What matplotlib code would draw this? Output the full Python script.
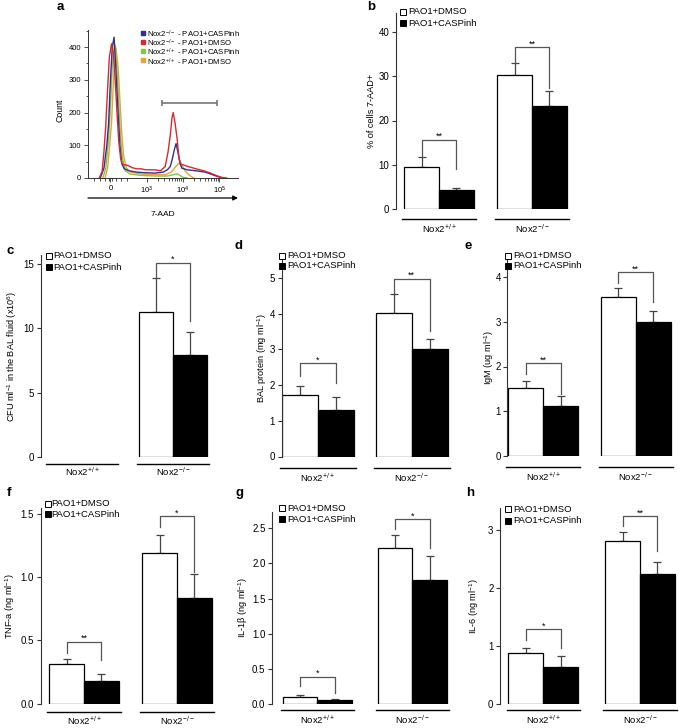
import numpy as np
import matplotlib
matplotlib.use('Agg')
import matplotlib.pyplot as plt
from matplotlib.transforms import blended_transform_factory
from matplotlib.ticker import MultipleLocator, FixedLocator, FormatStrFormatter

plt.rcParams['font.family'] = ['Liberation Sans', 'DejaVu Sans']
plt.rcParams['mathtext.fontset'] = 'custom'
plt.rcParams['mathtext.rm'] = 'Liberation Sans'
plt.rcParams['mathtext.it'] = 'Liberation Sans:italic'
plt.rcParams['mathtext.bf'] = 'Liberation Sans:bold'
plt.rcParams['mathtext.sf'] = 'Liberation Sans'

W, H = 685, 728

# ------------------------------------------------------------------ data
groups = ['Nox2$^{+/+}$', 'Nox2$^{-/-}$']
treatments = ['PAO1+DMSO', 'PAO1+CASPinh']

# panel a: flow cytometry histogram (x in display decades: 0, 10^3, 10^4, 10^5)
hist_ticks = [0, 1, 2, 3]
hist_ticklabels = ['0', '10$^{3}$', '10$^{4}$', '10$^{5}$']
hist_labels = ['Nox2$^{-/-}$ - PAO1+CASPinh', 'Nox2$^{-/-}$ - PAO1+DMSO',
               'Nox2$^{+/+}$ - PAO1+CASPinh', 'Nox2$^{+/+}$ - PAO1+DMSO']
hist_colors = ['#2e3192', '#d42a2f', '#86c447', '#e8a23a']

ko_casp_x = [-0.28, -0.18, -0.10, -0.05, 0.0, 0.05, 0.10, 0.15, 0.21, 0.26, 0.31, 0.38, 0.51, 0.72,
             0.97, 1.24, 1.46, 1.57, 1.65, 1.70, 1.76, 1.81, 1.86, 1.92, 1.97, 2.12, 2.36, 2.61,
             2.82, 2.97, 3.12]
ko_casp_count = [0, 30, 100, 170, 300, 400, 430, 330, 200, 100, 45, 28, 22, 18, 16, 15, 18, 25, 35,
                 55, 85, 105, 80, 45, 30, 25, 22, 18, 10, 4, 0]
ko_dmso_x = [-0.31, -0.23, -0.18, -0.13, -0.08, -0.03, 0.03, 0.08, 0.13, 0.18, 0.23, 0.28, 0.33,
             0.49, 0.59, 0.72, 0.85, 0.97, 1.24, 1.38, 1.51, 1.59, 1.65, 1.70, 1.73, 1.78, 1.84,
             1.89, 1.95, 2.06, 2.21, 2.36, 2.58, 2.76, 2.91, 3.06, 3.21]
ko_dmso_count = [0, 20, 80, 160, 270, 370, 410, 380, 300, 200, 110, 60, 42, 38, 32, 28, 28, 25, 25,
                 22, 35, 80, 130, 185, 200, 170, 120, 60, 42, 38, 33, 28, 22, 15, 8, 2, 0]
wt_casp_x = [-0.21, -0.13, -0.05, 0.0, 0.05, 0.10, 0.13, 0.18, 0.23, 0.28, 0.33, 0.41, 0.54, 0.85,
             1.24, 1.57, 1.73, 1.84, 1.92, 2.0, 2.12]
wt_casp_count = [0, 30, 120, 220, 340, 400, 405, 330, 220, 120, 60, 22, 12, 8, 6, 6, 10, 13, 8, 2, 0]
wt_dmso_x = [-0.15, -0.08, -0.03, 0.03, 0.08, 0.13, 0.15, 0.21, 0.26, 0.31, 0.36, 0.44, 0.56, 0.85,
             1.24, 1.51, 1.68, 1.78, 1.89, 1.97, 2.06, 2.18, 2.30]
wt_dmso_count = [0, 30, 90, 170, 290, 380, 398, 340, 240, 140, 70, 30, 18, 12, 10, 10, 18, 32, 45,
                 40, 22, 8, 0]
gate_x = [1.43, 2.94]
gate_count = 229

# panel b: % of cells 7-AAD+
b_dmso, b_dmso_sem = [9.6, 30.2], [2.1, 2.8]
b_casp, b_casp_sem = [4.2, 23.3], [0.5, 3.3]
b_br_top, b_br_left, b_br_right, b_stars = [15.6, 36.5], [11.7, 33.0], [9.0, 27.3], ['**', '**']
b_yticks = [0, 10, 20, 30, 40]

# panel c: CFU
c_dmso, c_dmso_sem = [0.0, 11.3], [0.0, 2.6]
c_casp, c_casp_sem = [0.0, 7.9], [0.0, 1.85]
c_br_top, c_br_left, c_br_right, c_stars = [None, 15.1], [None, 13.9], [None, 10.6], ['', '*']
c_yticks = [0, 5, 10, 15]

# panel d: BAL protein
d_dmso, d_dmso_sem = [1.72, 4.01], [0.25, 0.53]
d_casp, d_casp_sem = [1.29, 3.02], [0.37, 0.26]
d_br_top, d_br_left, d_br_right, d_stars = [2.61, 4.97], [2.26, 4.56], [2.05, 3.52], ['*', '**']
d_yticks = [0, 1, 2, 3, 4, 5]

# panel e: IgM
e_dmso, e_dmso_sem = [1.52, 3.54], [0.15, 0.20]
e_casp, e_casp_sem = [1.13, 3.00], [0.21, 0.24]
e_br_top, e_br_left, e_br_right, e_stars = [2.07, 4.10], [1.83, 3.85], [1.39, 3.44], ['**', '**']
e_yticks = [0, 1, 2, 3, 4]

# panel f: TNF-a
f_dmso, f_dmso_sem = [0.31, 1.195], [0.045, 0.14]
f_casp, f_casp_sem = [0.177, 0.834], [0.058, 0.19]
f_br_top, f_br_left, f_br_right, f_stars = [0.488, 1.483], [0.396, 1.40], [0.343, 1.04], ['**', '*']
f_yticks = [0.0, 0.5, 1.0, 1.5]

# panel g: IL-1b
g_dmso, g_dmso_sem = [0.095, 2.215], [0.035, 0.185]
g_casp, g_casp_sem = [0.052, 1.765], [0.014, 0.345]
g_br_top, g_br_left, g_br_right, g_stars = [0.39, 2.63], [0.26, 2.49], [0.15, 2.22], ['*', '*']
g_yticks = [0.0, 0.5, 1.0, 1.5, 2.0, 2.5]

# panel h: IL-6
h_dmso, h_dmso_sem = [0.885, 2.81], [0.085, 0.16]
h_casp, h_casp_sem = [0.644, 2.247], [0.186, 0.193]
h_br_top, h_br_left, h_br_right, h_stars = [1.287, 3.24], [1.10, 3.07], [0.97, 2.63], ['*', '**']
h_yticks = [0, 1, 2, 3]

# ------------------------------------------------------------------ figure
fig = plt.figure(figsize=(W / 100, H / 100), dpi=100)


def px_axes(L, R, top, bottom):
    return fig.add_axes([L / W, 1 - bottom / H, (R - L) / W, (bottom - top) / H])


ov = fig.add_axes([0, 0, 1, 1], zorder=10)
ov.set_xlim(0, W)
ov.set_ylim(H, 0)
ov.axis('off')

FS = 6.8
LINE = '#555555'

# ---------------- panel a
axa = px_axes(88, 238, 30, 178)
series = [(wt_dmso_x, wt_dmso_count, hist_colors[3]),
          (wt_casp_x, wt_casp_count, hist_colors[2]),
          (ko_casp_x, ko_casp_count, hist_colors[0]),
          (ko_dmso_x, ko_dmso_count, hist_colors[1])]
for xs, ys, col in series:
    axa.plot(xs, ys, color=col, lw=1.0, clip_on=False)
axa.set_xlim(-0.62, 3.52)
axa.set_ylim(0, 452)
for sp in ['top', 'right']:
    axa.spines[sp].set_visible(False)
for sp in ['left', 'bottom']:
    axa.spines[sp].set_linewidth(0.7)
    axa.spines[sp].set_color('#333333')
axa.set_yticks([0, 100, 200, 300, 400])
axa.yaxis.set_minor_locator(MultipleLocator(50))
axa.set_xticks(hist_ticks, hist_ticklabels)
minor = [-0.45, -0.3, -0.15, -0.05, 0.05, 0.15, 0.3, 0.45]
for dec in (1, 2):
    minor += [dec + np.log10(k) for k in range(2, 10)]
axa.xaxis.set_minor_locator(FixedLocator(minor))
axa.tick_params(which='both', labelsize=5.5, width=0.6, color='#333333', pad=2)
axa.tick_params(which='major', length=3)
axa.tick_params(which='minor', length=1.8)
axa.hlines(gate_count, gate_x[0], gate_x[1], color='#777777', lw=1.2)
axa.vlines(gate_x, gate_count - 9, gate_count + 9, color='#777777', lw=1.2)

ov.text(60, 110, 'Count', rotation=90, ha='center', va='center', fontsize=6.3)
ov.text(163, 214, '7-AAD', ha='center', va='center', fontsize=6)
ov.annotate('', xy=(238, 198), xytext=(88, 198),
            arrowprops=dict(arrowstyle='-|>', lw=0.9, color='black', mutation_scale=7,
                            shrinkA=0, shrinkB=0))
leg_rows = [33.3, 42.2, 50.9, 59.5]
for col, yy in zip(hist_colors, leg_rows):
    ov.plot(143, yy, 's', ms=2.8, color=col, mec=col)
# the four legend labels as one multi-line text block
ov.text(147.5, 28.8, '\n'.join(hist_labels), fontsize=5.6, va='top', ha='left',
        linespacing=0.76)
ov.text(60, 7, 'a', fontsize=9.5, fontweight='bold', ha='center', va='center')

# ---------------- bar panels
layout = {
    'b': dict(L=396, Y0=209, YT=13, c1=439, s=93, bw=0.376, ppu=4.425, ul=10, gl=19, ylx=371,
              leg=(403, 408.5, 12, 23), let=(367, 7)),
    'c': dict(L=40.7, Y0=457, YT=255, c1=82, s=91, bw=0.374, ppu=12.87, ul=7, gl=13.5, ylx=12,
              leg=(49, 53.5, 255.5, 267), let=(7, 251)),
    'd': dict(L=281.7, Y0=456.5, YT=260, c1=317.7, s=94, bw=0.383, ppu=35.75, ul=11.8, gl=20.5,
              ylx=262, leg=(282, 287, 255.7, 265.7), let=(235, 246)),
    'e': dict(L=507.3, Y0=456.3, YT=259, c1=543.3, s=92.4, bw=0.38, ppu=44.9, ul=10.3, gl=19.7,
              ylx=489, leg=(508.3, 513.3, 255.7, 266), let=(465, 246)),
    'f': dict(L=40.5, Y0=703.5, YT=508, c1=84, s=93, bw=0.376, ppu=126.3, ul=8, gl=16, ylx=10,
              leg=(48.3, 51, 504, 514.3), let=(7, 493)),
    'g': dict(L=272, Y0=704, YT=511.7, c1=317.3, s=95, bw=0.364, ppu=70.3, ul=6, gl=15, ylx=243,
              leg=(282, 287, 508.3, 519.3), let=(236, 493)),
    'h': dict(L=500, Y0=704, YT=508, c1=543.3, s=96.7, bw=0.36, ppu=58, ul=6, gl=15, ylx=474,
              leg=(508.3, 513.3, 509.3, 520.7), let=(466, 493)),
}

panels = [
    ('b', b_dmso, b_dmso_sem, b_casp, b_casp_sem, b_br_top, b_br_left, b_br_right, b_stars,
     b_yticks, '%d', '% of cells 7-AAD+'),
    ('c', c_dmso, c_dmso_sem, c_casp, c_casp_sem, c_br_top, c_br_left, c_br_right, c_stars,
     c_yticks, '%d', 'CFU ml$^{-1}$ in the BAL fluid (x10$^{6}$)'),
    ('d', d_dmso, d_dmso_sem, d_casp, d_casp_sem, d_br_top, d_br_left, d_br_right, d_stars,
     d_yticks, '%d', 'BAL protein (mg ml$^{-1}$)'),
    ('e', e_dmso, e_dmso_sem, e_casp, e_casp_sem, e_br_top, e_br_left, e_br_right, e_stars,
     e_yticks, '%d', 'IgM (ug ml$^{-1}$)'),
    ('f', f_dmso, f_dmso_sem, f_casp, f_casp_sem, f_br_top, f_br_left, f_br_right, f_stars,
     f_yticks, '%.1f', 'TNF-a (ng ml$^{-1}$)'),
    ('g', g_dmso, g_dmso_sem, g_casp, g_casp_sem, g_br_top, g_br_left, g_br_right, g_stars,
     g_yticks, '%.1f', 'IL-1\u03b2 (ng ml$^{-1}$)'),
    ('h', h_dmso, h_dmso_sem, h_casp, h_casp_sem, h_br_top, h_br_left, h_br_right, h_stars,
     h_yticks, '%d', 'IL-6 (ng ml$^{-1}$)'),
]

for (key, dm, dms, cs, css, btop, bleft, bright, stars, yt, fmt, ylab) in panels:
    lo = layout[key]
    L, Y0, YT, c1, s, bw = lo['L'], lo['Y0'], lo['YT'], lo['c1'], lo['s'], lo['bw']
    x_left = (L - c1) / s
    x_right = 1.6
    R = c1 + x_right * s
    ax = px_axes(L, R, YT, Y0)
    ax.set_xlim(x_left, x_right)
    ax.set_ylim(0, (Y0 - YT) / lo['ppu'])
    hpx = Y0 - YT
    xg = np.arange(len(groups))
    xw = xg - bw / 2
    xb = xg + bw / 2
    ax.bar(xw, dm, width=bw, color='white', edgecolor='black',
           linewidth=[0.9 if v > 0 else 0 for v in dm], zorder=2)
    ax.bar(xb, cs, width=bw, color='black', edgecolor='black',
           linewidth=[0.9 if v > 0 else 0 for v in cs], zorder=2)
    for xs, vals, sems in ((xw, dm, dms), (xb, cs, css)):
        m = np.array(vals) > 0
        if m.any():
            ax.errorbar(np.array(xs)[m], np.array(vals)[m],
                        yerr=[np.zeros(m.sum()), np.array(sems)[m]], fmt='none',
                        ecolor='#444444', elinewidth=0.9, capsize=2.8, capthick=0.9, zorder=1)
    for i in range(len(groups)):
        if btop[i] is None:
            continue
        ax.plot([xw[i], xw[i], xb[i], xb[i]], [bleft[i], btop[i], btop[i], bright[i]],
                color=LINE, lw=0.9, clip_on=False, zorder=3)
        ax.annotate(stars[i], (xg[i], btop[i]), xytext=(0, 0.6), textcoords='offset points',
                    ha='center', va='baseline', fontsize=6.5, annotation_clip=False)
    tr = blended_transform_factory(ax.transData, ax.transAxes)
    for i, g in enumerate(groups):
        hw = bw + 0.02
        ax.plot([xg[i] - hw, xg[i] + hw], [-lo['ul'] / hpx] * 2, transform=tr, color='black',
                lw=1.0, clip_on=False)
        ax.text(xg[i], -lo['gl'] / hpx, g, transform=tr, ha='center', va='center_baseline',
                fontsize=FS)
    for sp in ['top', 'right', 'bottom']:
        ax.spines[sp].set_visible(False)
    ax.spines['left'].set_linewidth(0.8)
    ax.spines['left'].set_color('#333333')
    ax.set_xticks([])
    ax.set_yticks(yt)
    ax.yaxis.set_major_formatter(FormatStrFormatter(fmt))
    ax.tick_params(axis='y', direction='out', length=3.1, width=0.8, color='#333333',
                   labelsize=7, pad=1.6)
    ax.set_ylabel(ylab, fontsize=6.6)
    ax.yaxis.label.set_va('center')
    ax.yaxis.set_label_coords((lo['ylx'] - L) / (R - L), 0.5)
    # legend
    sqx, tx, r1, r2 = lo['leg']
    ov.plot(sqx, r1, 's', ms=4.2, mfc='white', mec='black', mew=0.7)
    ov.plot(sqx, r2, 's', ms=4.2, mfc='black', mec='black', mew=0.7)
    ov.text(tx, r1, treatments[0], fontsize=FS, va='center', ha='left')
    ov.text(tx, r2, treatments[1], fontsize=FS, va='center', ha='left')
    lx, ly = lo['let']
    ov.text(lx, ly, key, fontsize=9.5, fontweight='bold', ha='left', va='center')

fig.savefig('out.png', dpi=100)
